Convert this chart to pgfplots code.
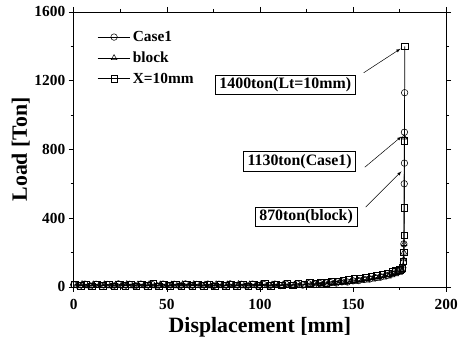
\documentclass[border=0pt]{standalone}
\usepackage{pgfplots}
\pgfplotsset{compat=1.18}
\usepackage{fontspec}
\setmainfont{Liberation Serif}
\begin{document}
\begin{tikzpicture}
\begin{axis}[
  scale only axis, width=374bp, height=276bp,
  xmin=0, xmax=200, ymin=0, ymax=1600,
  xtick={0,50,100,150,200}, ytick={0,400,800,1200,1600},
  xticklabels={0,50,100,150,200}, yticklabels={0,400,800,1200,1600},
  minor x tick num=1, minor y tick num=1,
  tick align=outside, xtick pos=both, ytick pos=both,
  major tick length=5bp, minor tick length=3bp,
  tick style={line width=0.6pt, black},
  axis line style={line width=0.6pt},
  tick label style={font=\fontsize{15.5}{15.5}\selectfont\bfseries},
  xticklabel style={yshift=-4bp},
  xlabel={Displacement [mm]}, ylabel={Load [Ton]},
  label style={font=\fontsize{22}{22}\selectfont\bfseries},
  xlabel style={at={(axis description cs:0.5,0)}, anchor=base, yshift=-46bp},
  ylabel style={at={(axis description cs:0,0.5)}, anchor=base, yshift=47bp},
  legend style={draw=none, fill=none, at={(0.055,0.945)}, anchor=north west,
    font=\fontsize{15.5}{15.5}\selectfont\bfseries, row sep=5bp},
  legend cell align=left,
  legend image code/.code={\draw[mark repeat=2,mark phase=2] plot coordinates {(0cm,0cm) (0.58cm,0cm) (1.16cm,0cm)};},
  cycle list={{black,mark=o},{black,mark=triangle},{black,mark=square}},
  every axis plot/.append style={line width=0.7pt, mark size=3.3pt, mark options={fill=white, line width=0.55pt, solid}},
]
\addplot+[black, mark=o] coordinates {
(0,12)(3,4)(6,16)(9,5)(12,15)(15,3)(18,14)(21,5)(24,17)(27,4)(30,15)(33,6)(36,16)(39,4)(42,14)(45,5)(48,16)(51,3)(54,15)(57,6)(60,17)(63,5)(66,14)(69,4)(72,16)(75,6)(78,15)(81,5)(84,17)(87,4)(90,15)(93,6)(96,16)(99,5)(102,14)(105,6)(108,16)(111,7)(114,15)(117,8)(120,16)(123,10)(126,18)(129,13)(132,20)(135,17)(138,24)(141,22)(144,29)(147,28)(150,35)(153,36)(156,43)(159,46)(162,53)(165,58)(168,66)(170,72)(172,80)(174,88)(175.5,96)(176.5,110)(177,140)(177.3,250)(177.5,600)(177.6,720)(177.6,900)(177.7,1130)
};
\addlegendentry{Case1}
\addplot+[black, mark=triangle] coordinates {
(1.5,6)(4.5,17)(7.5,4)(10.5,15)(13.5,5)(16.5,16)(19.5,3)(22.5,14)(25.5,6)(28.5,17)(31.5,4)(34.5,15)(37.5,5)(40.5,16)(43.5,3)(46.5,15)(49.5,6)(52.5,14)(55.5,4)(58.5,16)(61.5,5)(64.5,17)(67.5,6)(70.5,14)(73.5,4)(76.5,16)(79.5,5)(82.5,15)(85.5,6)(88.5,17)(91.5,4)(94.5,15)(97.5,6)(100.5,16)(103.5,5)(106.5,14)(109.5,6)(112.5,15)(115.5,7)(118.5,14)(121.5,8)(124.5,14)(127.5,10)(130.5,16)(133.5,13)(136.5,19)(139.5,17)(142.5,23)(145.5,22)(148.5,28)(151.5,29)(154.5,35)(157.5,37)(160.5,43)(163.5,47)(166.5,54)(169,60)(171,67)(173,74)(175,82)(176.3,92)(177,120)(177.2,160)(177.3,200)(177.4,250)(177.5,870)
};
\addlegendentry{block}
\addplot+[black, mark=square] coordinates {
(0.7,15)(3.7,5)(6.7,14)(9.7,4)(12.7,16)(15.7,6)(18.7,15)(21.7,4)(24.7,14)(27.7,6)(30.7,16)(33.7,3)(36.7,15)(39.7,5)(42.7,17)(45.7,4)(48.7,14)(51.7,6)(54.7,16)(57.7,4)(60.7,15)(63.7,6)(66.7,16)(69.7,5)(72.7,14)(75.7,3)(78.7,16)(81.7,6)(84.7,14)(87.7,5)(90.7,16)(93.7,4)(96.7,15)(99.7,6)(102.7,17)(105.7,5)(108.7,15)(111.7,8)(114.7,17)(117.7,10)(120.7,19)(123.7,14)(126.7,22)(129.7,18)(132.7,26)(135.7,24)(138.7,31)(141.7,31)(144.7,38)(147.7,40)(150.7,46)(153.7,50)(156.7,56)(159.7,61)(162.7,67)(165.7,73)(168.5,80)(171,87)(173,93)(175,100)(176.4,112)(177,150)(177.3,200)(177.4,300)(177.5,460)(177.6,850)(177.8,1400)
};
\addlegendentry{X=10mm}
\begin{scope}[font=\fontsize{16}{16}\selectfont\bfseries]
\draw[-latex, line width=0.5pt] (axis cs:155.7,1246) -- (axis cs:175.5,1386);
\draw[-latex, line width=0.5pt] (axis cs:156.3,696) -- (axis cs:176,875);
\draw[-latex, line width=0.5pt] (axis cs:156.8,464) -- (axis cs:176,672);
\node[draw, fill=white, inner xsep=4bp, inner ysep=2.5bp, line width=0.5pt] at (axis cs:113.6,1177) {1400ton(Lt=10mm)};
\node[draw, fill=white, inner xsep=4bp, inner ysep=2.5bp, line width=0.5pt] at (axis cs:121.3,730) {1130ton(Case1)};
\node[draw, fill=white, inner xsep=4bp, inner ysep=2.5bp, line width=0.5pt] at (axis cs:124.8,409) {870ton(block)};
\end{scope}
\end{axis}
\path (current axis.south west) +(-74bp,-52bp);
\path (current axis.north east) +(13bp,12bp);
\end{tikzpicture}
\end{document}
